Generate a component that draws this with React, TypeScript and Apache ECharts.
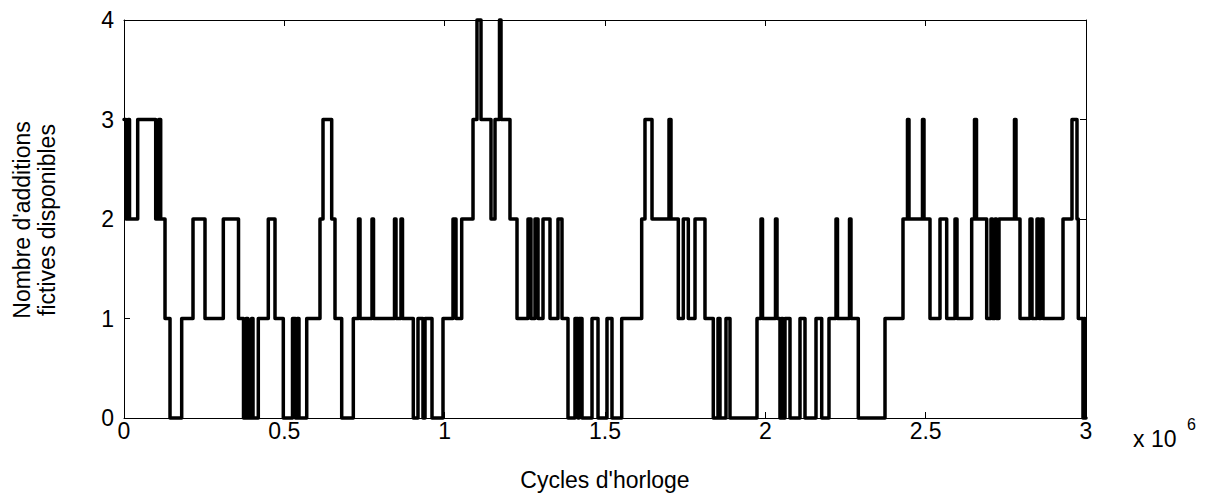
import React, { useEffect, useRef } from "react";
import * as echarts from "echarts";

// Step transitions: time (in millions of clock cycles) at which the count changes,
// and the number of available fictitious additions from that time on.
const transitionCycles: number[] = [
  0, 0.0062, 0.0125, 0.0172, 0.0427, 0.0989, 0.1082, 0.1144, 0.1279, 0.1435,
  0.1799, 0.2152, 0.2526, 0.3097, 0.3571, 0.3727, 0.3805, 0.3867, 0.3976, 0.4023,
  0.4188, 0.45, 0.4709, 0.4968, 0.5255, 0.5348, 0.5395, 0.5457, 0.5698, 0.6112,
  0.6206, 0.6477, 0.658, 0.6789, 0.7151, 0.7313, 0.736, 0.7734, 0.7781, 0.8436,
  0.8482, 0.8638, 0.8685, 0.9022, 0.9168, 0.9324, 0.9387, 0.9605, 0.9948, 1.026,
  1.0353, 1.0531, 1.0884, 1.1008, 1.1133, 1.1445, 1.157, 1.171, 1.1757, 1.2037,
  1.2256, 1.2599, 1.2692, 1.2817, 1.2911, 1.3067, 1.3285, 1.3534, 1.3659, 1.3846,
  1.4064, 1.4158, 1.4189, 1.4283, 1.4595, 1.4782, 1.5062, 1.5218, 1.5521, 1.6144,
  1.6247, 1.6466, 1.6996, 1.7058, 1.7286, 1.7442, 1.7598, 1.7807, 1.8118, 1.8377,
  1.8524, 1.8586, 1.8773, 1.8898, 1.974, 1.9865, 1.9912, 2.0317, 2.0364, 2.0457,
  2.0504, 2.0551, 2.0613, 2.0769, 2.1081, 2.1237, 2.158, 2.1758, 2.1985, 2.2204,
  2.225, 2.2625, 2.2671, 2.2899, 2.3732, 2.4293, 2.4433, 2.448, 2.4901, 2.4948,
  2.5135, 2.5447, 2.5656, 2.5915, 2.5977, 2.6435, 2.6523, 2.6585, 2.6903, 2.7037,
  2.7084, 2.7162, 2.7209, 2.7287, 2.777, 2.7817, 2.7942, 2.8254, 2.8316, 2.8472,
  2.8534, 2.8597, 2.8659, 2.9283, 2.9563, 2.9719, 2.976, 2.9906, 2.9938, 2.9969,
  3.0,
];

const availableAdditions: number[] = [
  3, 2, 3, 2, 3, 2, 3, 2, 1, 0,
  1, 2, 1, 2, 1, 0, 1, 0, 1, 0,
  1, 2, 1, 0, 1, 0, 1, 0, 1, 2,
  3, 2, 1, 0, 1, 2, 1, 2, 1, 2,
  1, 2, 1, 0, 1, 0, 1, 0, 1, 2,
  1, 2, 3, 4, 3, 2, 3, 4, 3, 2,
  1, 2, 1, 2, 1, 2, 1, 2, 1, 0,
  1, 0, 1, 0, 1, 0, 1, 0, 1, 2,
  3, 2, 3, 2, 1, 2, 1, 2, 1, 0,
  1, 0, 1, 0, 1, 2, 1, 2, 1, 0,
  1, 0, 1, 0, 1, 0, 1, 0, 1, 2,
  1, 2, 1, 0, 1, 2, 3, 2, 3, 2,
  1, 2, 1, 2, 1, 2, 3, 2, 1, 2,
  1, 2, 1, 2, 3, 2, 1, 2, 1, 2,
  1, 2, 1, 2, 3, 2, 1, 0, 1, 0,
  0,
];

const xTicks = { min: 0, max: 3, interval: 0.5 };
const yTicks = { min: 0, max: 4, interval: 1 };

const xAxisTitle = "Cycles d'horloge";
const yAxisTitleLines = ["Nombre d'additions", "fictives disponibles"];
const xScaleBase = "x 10";
const xScaleExponent = "6";

const FONT = '"Liberation Sans", Arial, Helvetica, sans-serif';

export default function App() {
  const ref = useRef<HTMLDivElement>(null);

  useEffect(() => {
    document.body.style.margin = "0";
    if (!ref.current) return;
    const chart = echarts.init(ref.current, undefined, { renderer: "svg" });

    const data = transitionCycles.map((c, i) => [c, availableAdditions[i]]);

    const axisCommon = {
      axisLine: { show: true, onZero: false, lineStyle: { color: "#000", width: 1 } },
      axisTick: { show: true, inside: true, length: 6, lineStyle: { color: "#000", width: 1 } },
      splitLine: { show: false },
    };

    chart.setOption({
      animation: false,
      backgroundColor: "#fff",
      grid: { left: 124, right: 122, top: 20, bottom: 80, containLabel: false },
      xAxis: [
        {
          type: "value",
          position: "bottom",
          ...xTicks,
          ...axisCommon,
          axisLabel: {
            show: true,
            color: "#000",
            fontSize: 23,
            fontFamily: FONT,
            margin: 1,
            formatter: (v: number) => String(v),
          },
          name: xAxisTitle,
          nameLocation: "middle",
          nameGap: 50,
          nameTextStyle: { color: "#000", fontSize: 23, fontFamily: FONT },
        },
        {
          type: "value",
          position: "top",
          ...xTicks,
          ...axisCommon,
          axisLabel: { show: false },
        },
      ],
      yAxis: [
        {
          type: "value",
          position: "left",
          ...yTicks,
          ...axisCommon,
          axisLabel: {
            show: true,
            color: "#000",
            fontSize: 23,
            fontFamily: FONT,
            margin: 10,
          },
        },
        {
          type: "value",
          position: "right",
          ...yTicks,
          ...axisCommon,
          axisLabel: { show: false },
        },
      ],
      graphic: [
        {
          type: "text",
          x: 22,
          y: 220,
          rotation: Math.PI / 2,
          style: {
            text: yAxisTitleLines[0],
            font: `23px ${FONT}`,
            fill: "#000",
            textAlign: "center",
            textVerticalAlign: "middle",
          },
        },
        {
          type: "text",
          x: 47,
          y: 220,
          rotation: Math.PI / 2,
          style: {
            text: yAxisTitleLines[1],
            font: `23px ${FONT}`,
            fill: "#000",
            textAlign: "center",
            textVerticalAlign: "middle",
          },
        },
        {
          type: "text",
          x: 1133,
          y: 439,
          style: {
            text: xScaleBase,
            font: `23px ${FONT}`,
            fill: "#000",
            textAlign: "left",
            textVerticalAlign: "middle",
          },
        },
        {
          type: "text",
          x: 1187,
          y: 424,
          style: {
            text: xScaleExponent,
            font: `16px ${FONT}`,
            fill: "#000",
            textAlign: "left",
            textVerticalAlign: "middle",
          },
        },
      ],
      series: [
        {
          type: "line",
          xAxisIndex: 0,
          yAxisIndex: 0,
          step: "end",
          data,
          symbol: "none",
          clip: false,
          lineStyle: { color: "#000", width: 3.5, cap: "round", join: "round" },
        },
      ],
    });

    return () => chart.dispose();
  }, []);

  return <div ref={ref} style={{ width: 1208, height: 498 }} />;
}
